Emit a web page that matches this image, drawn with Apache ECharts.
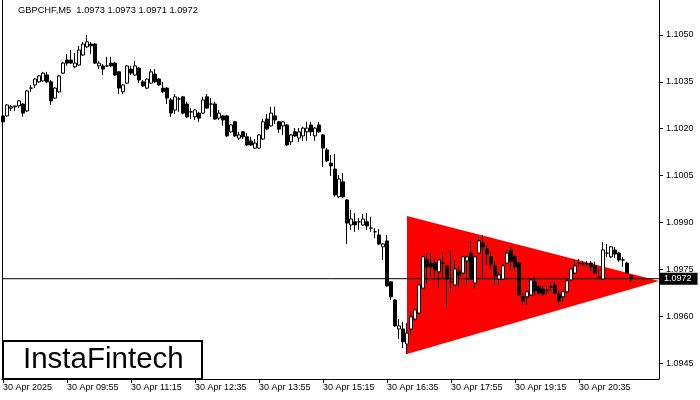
<!DOCTYPE html>
<html><head><meta charset="utf-8">
<script src="https://cdn.jsdelivr.net/npm/echarts@6/dist/echarts.min.js"></script>
<style>html,body{margin:0;padding:0;background:#fff}#c{width:700px;height:400px}</style>
</head><body><div id="c"></div><script>
const chartTitle = 'GBPCHF,M5  1.0973 1.0973 1.0971 1.0972';
const logoText = 'InstaFintech';
const opens = [1.10241,1.10241,1.10266,1.10270,1.10273,1.10279,1.10257,1.10330,1.10340,1.10350,
 1.10353,1.10372,1.10350,1.10298,1.10318,1.10378,1.10420,1.10420,1.10398,1.10404,
 1.10436,1.10462,1.10471,1.10471,1.10401,1.10401,1.10401,1.10410,1.10410,1.10382,
 1.10318,1.10346,1.10391,1.10372,1.10394,1.10350,1.10330,1.10346,1.10375,1.10359,
 1.10330,1.10330,1.10292,1.10260,1.10295,1.10302,1.10279,1.10254,1.10238,1.10250,
 1.10250,1.10302,1.10279,1.10279,1.10234,1.10241,1.10241,1.10190,1.10222,1.10170,
 1.10190,1.10174,1.10161,1.10138,1.10138,1.10167,1.10231,1.10209,1.10241,1.10222,
 1.10209,1.10212,1.10158,1.10190,1.10170,1.10177,1.10190,1.10212,1.10177,1.10212,
 1.10180,1.10132,1.10090,1.10071,1.09982,1.10030,1.09972,1.09892,1.09902,1.09902,
 1.09892,1.09902,1.09882,1.09870,1.09860,1.09822,1.09841,1.09710,1.09652,1.09559,
 1.09559,1.09511,1.09559,1.09591,1.09610,1.09690,1.09780,1.09770,1.09770,1.09742,
 1.09770,1.09761,1.09710,1.09700,1.09742,1.09738,1.09777,1.09802,1.09706,1.09802,
 1.09834,1.09815,1.09790,1.09761,1.09719,1.09719,1.09770,1.09812,1.09790,1.09770,
 1.09662,1.09662,1.09668,1.09710,1.09694,1.09687,1.09684,1.09694,1.09700,1.09671,
 1.09662,1.09678,1.09716,1.09738,1.09770,1.09767,1.09767,1.09770,1.09761,1.09726,
 1.09719,1.09802,1.09790,1.09812,1.09802,1.09780,1.09770,1.09730];
const closes = [1.10222,1.10276,1.10270,1.10273,1.10289,1.10250,1.10321,1.10330,1.10359,1.10369,
 1.10378,1.10350,1.10289,1.10330,1.10369,1.10410,1.10410,1.10410,1.10410,1.10452,
 1.10471,1.10478,1.10465,1.10410,1.10410,1.10391,1.10401,1.10401,1.10372,1.10330,
 1.10340,1.10401,1.10378,1.10401,1.10356,1.10337,1.10359,1.10382,1.10350,1.10340,
 1.10318,1.10298,1.10250,1.10302,1.10295,1.10250,1.10238,1.10254,1.10260,1.10234,
 1.10292,1.10266,1.10279,1.10231,1.10250,1.10228,1.10177,1.10212,1.10177,1.10180,
 1.10174,1.10148,1.10148,1.10154,1.10180,1.10222,1.10199,1.10250,1.10228,1.10199,
 1.10222,1.10148,1.10180,1.10177,1.10190,1.10202,1.10202,1.10190,1.10202,1.10190,
 1.10138,1.10097,1.10081,1.09988,1.10039,1.09982,1.09898,1.09911,1.09892,1.09902,
 1.09911,1.09889,1.09882,1.09870,1.09831,1.09831,1.09697,1.09662,1.09569,1.09569,
 1.09518,1.09546,1.09598,1.09620,1.09700,1.09790,1.09758,1.09758,1.09748,1.09780,
 1.09770,1.09719,1.09710,1.09751,1.09729,1.09790,1.09790,1.09719,1.09790,1.09841,
 1.09822,1.09799,1.09767,1.09729,1.09732,1.09761,1.09802,1.09777,1.09758,1.09668,
 1.09649,1.09678,1.09716,1.09681,1.09674,1.09671,1.09684,1.09694,1.09674,1.09649,
 1.09678,1.09713,1.09751,1.09761,1.09770,1.09767,1.09767,1.09758,1.09738,1.09726,
 1.09812,1.09802,1.09822,1.09799,1.09780,1.09780,1.09738,1.09720];
const highs = [1.10247,1.10279,1.10276,1.10273,1.10292,1.10282,1.10324,1.10340,1.10362,1.10372,
 1.10382,1.10382,1.10356,1.10334,1.10372,1.10414,1.10439,1.10452,1.10442,1.10465,
 1.10478,1.10500,1.10478,1.10474,1.10417,1.10407,1.10430,1.10430,1.10414,1.10385,
 1.10343,1.10404,1.10401,1.10417,1.10398,1.10356,1.10362,1.10391,1.10391,1.10362,
 1.10350,1.10334,1.10298,1.10311,1.10302,1.10305,1.10286,1.10266,1.10263,1.10254,
 1.10302,1.10311,1.10298,1.10286,1.10260,1.10244,1.10244,1.10215,1.10225,1.10190,
 1.10193,1.10186,1.10174,1.10167,1.10183,1.10231,1.10247,1.10270,1.10270,1.10225,
 1.10225,1.10215,1.10183,1.10202,1.10202,1.10206,1.10222,1.10222,1.10206,1.10222,
 1.10183,1.10138,1.10116,1.10119,1.10052,1.10058,1.09975,1.09940,1.09930,1.09914,
 1.09927,1.09930,1.09918,1.09882,1.09879,1.09834,1.09860,1.09713,1.09655,1.09591,
 1.09582,1.09578,1.09614,1.09626,1.09703,1.09793,1.09802,1.09802,1.09783,1.09783,
 1.09802,1.09764,1.09812,1.09780,1.09761,1.09793,1.09793,1.09841,1.09793,1.09854,
 1.09860,1.09828,1.09806,1.09774,1.09742,1.09767,1.09812,1.09822,1.09796,1.09774,
 1.09674,1.09684,1.09719,1.09726,1.09700,1.09697,1.09700,1.09710,1.09710,1.09681,
 1.09684,1.09719,1.09754,1.09780,1.09783,1.09777,1.09777,1.09777,1.09774,1.09748,
 1.09838,1.09831,1.09825,1.09822,1.09806,1.09790,1.09774,1.09730];
const lows = [1.10212,1.10238,1.10257,1.10257,1.10266,1.10238,1.10254,1.10318,1.10330,1.10346,
 1.10350,1.10346,1.10276,1.10295,1.10314,1.10375,1.10401,1.10407,1.10394,1.10401,
 1.10433,1.10458,1.10439,1.10407,1.10391,1.10372,1.10398,1.10398,1.10369,1.10311,
 1.10311,1.10343,1.10372,1.10369,1.10346,1.10334,1.10327,1.10343,1.10346,1.10337,
 1.10314,1.10279,1.10238,1.10247,1.10254,1.10247,1.10234,1.10231,1.10228,1.10222,
 1.10247,1.10263,1.10238,1.10228,1.10228,1.10209,1.10174,1.10186,1.10174,1.10164,
 1.10167,1.10145,1.10145,1.10135,1.10135,1.10164,1.10196,1.10206,1.10215,1.10186,
 1.10180,1.10145,1.10148,1.10174,1.10158,1.10161,1.10161,1.10177,1.10161,1.10186,
 1.10078,1.10094,1.10049,1.09982,1.09978,1.09978,1.09831,1.09876,1.09870,1.09876,
 1.09889,1.09876,1.09870,1.09850,1.09828,1.09780,1.09694,1.09652,1.09566,1.09527,
 1.09498,1.09479,1.09540,1.09585,1.09607,1.09687,1.09706,1.09726,1.09716,1.09690,
 1.09719,1.09630,1.09678,1.09697,1.09690,1.09735,1.09700,1.09716,1.09687,1.09799,
 1.09719,1.09764,1.09748,1.09700,1.09700,1.09716,1.09767,1.09748,1.09748,1.09665,
 1.09636,1.09636,1.09665,1.09665,1.09668,1.09665,1.09671,1.09678,1.09671,1.09636,
 1.09646,1.09674,1.09713,1.09735,1.09758,1.09761,1.09761,1.09745,1.09735,1.09719,
 1.09716,1.09790,1.09786,1.09786,1.09774,1.09758,1.09735,1.09710];
const timeTickIndex = [0,16,32,48,64,80,96,112,128,144];
const timeTickLabels = ['30 Apr 2025','30 Apr 09:55','30 Apr 11:15','30 Apr 12:35','30 Apr 13:55',
 '30 Apr 15:15','30 Apr 16:35','30 Apr 17:55','30 Apr 19:15','30 Apr 20:35'];
const priceTicks = [1.0945,1.0960,1.0975,1.0990,1.1005,1.1020,1.1035,1.1050];
const lastPrice = 1.0972;
const triangleBar = [101, 164, 101];
const trianglePrice = [1.09921, 1.09713, 1.09479];

const AXIS_FONT = 'Liberation Sans';
const X_MIN = -0.25, X_MAX = 164;
const Y_MIN = 1.09399, Y_MAX = 1.10612;
const candles = opens.map((o, i) => [i, o, closes[i], lows[i], highs[i]]);
const triangle = triangleBar.map((b, i) => [b, trianglePrice[i]]);
const priceLine = [[X_MIN, lastPrice], [X_MAX, lastPrice]];

const chart = echarts.init(document.getElementById('c'), null, {renderer: 'canvas'});
chart.setOption({
  animation: false,
  backgroundColor: '#fff',
  title: {
    text: chartTitle, left: 18, top: 6, padding: 0,
    textStyle: {fontFamily: AXIS_FONT, fontSize: 9.3, fontWeight: 'normal', color: '#000'}
  },
  grid: {left: 2, right: 41, top: 0, bottom: 21},
  xAxis: {
    type: 'value', min: X_MIN, max: X_MAX,
    axisLine: {show: true, onZero: false, lineStyle: {color: '#000', width: 1}},
    axisTick: {show: true, customValues: timeTickIndex, length: 4, lineStyle: {color: '#000'}},
    axisLabel: {
      customValues: timeTickIndex,
      formatter: v => timeTickLabels[timeTickIndex.indexOf(Math.round(v))] || '',
      align: 'left', margin: 4, color: '#000', fontFamily: AXIS_FONT, fontSize: 9
    },
    splitLine: {show: false}
  },
  yAxis: [{
    type: 'value', position: 'right', min: Y_MIN, max: Y_MAX,
    axisLine: {show: true, onZero: false, lineStyle: {color: '#000', width: 1}},
    axisTick: {show: true, customValues: priceTicks, length: 4, lineStyle: {color: '#000'}},
    axisLabel: {customValues: priceTicks, formatter: v => v.toFixed(4), margin: 7,
      color: '#000', fontFamily: AXIS_FONT, fontSize: 9},
    splitLine: {show: false}
  }, {
    type: 'value', position: 'left', min: Y_MIN, max: Y_MAX,
    axisLine: {show: true, onZero: false, lineStyle: {color: '#000', width: 1}},
    axisTick: {show: false}, axisLabel: {show: false}, splitLine: {show: false}
  }],
  series: [{
    type: 'custom', silent: true, z: 1, clip: true,
    data: triangle, encode: {x: 0, y: 1},
    renderItem: (params, api) => {
      if (params.dataIndex !== 0) return null;
      const pts = triangle.map(p => api.coord(p));
      return {type: 'polygon', shape: {points: pts}, style: {fill: '#ff0000', stroke: null}};
    }
  }, {
    type: 'line', z: 2, silent: true, data: priceLine,
    showSymbol: false, symbol: 'none',
    lineStyle: {color: '#000', width: 1},
    endLabel: {show: true, formatter: () => lastPrice.toFixed(4), color: '#fff',
      backgroundColor: '#000', padding: [2, 6, 1, 5], distance: 0,
      fontFamily: AXIS_FONT, fontSize: 9}
  }, {
    type: 'candlestick', z: 3,
    data: candles, encode: {x: 0, y: [1, 2, 3, 4]},
    barWidth: 3,
    itemStyle: {color: '#ffffff', color0: '#000000', borderColor: '#000000', borderColor0: '#000000',
      borderColorDoji: '#000000', borderWidth: 1},
    emphasis: {disabled: true}
  }],
  graphic: [{
    type: 'group', left: 2, top: 340,
    children: [
      {type: 'rect', shape: {x: 0, y: 0, width: 199, height: 38}, style: {fill: '#fff', stroke: '#000', lineWidth: 2}},
      {type: 'text', x: 20, y: 19, style: {text: logoText, fill: '#000', font: '29.5px "Liberation Sans"', textVerticalAlign: 'middle'}}
    ]
  }]
});
</script></body></html>
